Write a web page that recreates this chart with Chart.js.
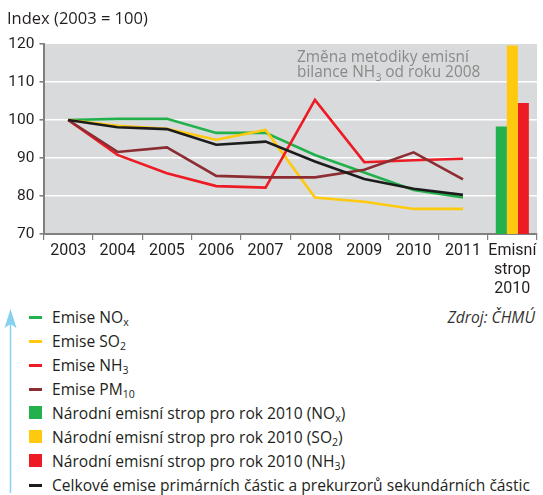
<!DOCTYPE html>
<html lang="cs">
<head>
<meta charset="utf-8">
<title>Index emisí 2003–2011</title>
<script src="https://cdn.jsdelivr.net/npm/chart.js@4/dist/chart.umd.min.js"></script>
<style>
  html, body { margin: 0; padding: 0; background: #fff; }
  body { font-family: "Open Sans", Roboto, sans-serif; color: #231f20; }
  #page { position: relative; width: 543px; height: 495px; overflow: hidden; }
  #chartBox { position: absolute; left: 0; top: 0; width: 543px; height: 300px; }
  #title { position: absolute; left: 7px; top: 7px; font-size: 16.5px; line-height: 22px; }
  #source { position: absolute; right: 8px; top: 306px; font-size: 15.6px; line-height: 22px; font-style: italic; color: #333; }
  #legend { position: absolute; left: 0; top: 305px; }
  .row { position: relative; height: 24px; line-height: 24px; font-size: 15.6px; padding-left: 52px; white-space: nowrap; }
  .row sub { font-size: 10.5px; vertical-align: -3px; line-height: 0; }
  .sw-line { position: absolute; left: 29px; top: 11px; width: 13px; height: 2.5px; }
  .sw-box { position: absolute; left: 29px; top: 5px; width: 13px; height: 13px; }
  #arrow { position: absolute; left: 0; top: 300px; }
</style>
</head>
<body>
<div id="page">
  <div id="chartBox"><canvas id="emiseChart"></canvas></div>
  <div id="title">Index (2003 = 100)</div>
  <div id="source">Zdroj: ČHMÚ</div>
  <svg id="arrow" width="22" height="195" viewBox="0 0 22 195">
    <line x1="10.5" y1="24" x2="10.5" y2="193" stroke="#86d0f0" stroke-width="1.5"/>
    <polygon points="10.5,9 4.5,28 10.5,24 16.5,28" fill="#86d0f0"/>
  </svg>
  <div id="legend"></div>
</div>
<script>
// kategorie osy x
const categories = ['2003', '2004', '2005', '2006', '2007', '2008', '2009', '2010', '2011', ['Emisní', 'strop', '2010']];

// indexy emisí (2003 = 100)
const noxValues   = [100, 100.3, 100.3, 96.6, 96.6, 90.8, 86.2, 81.6, 79.6, null];
const so2Values   = [100, 98.5, 97.7, 94.8, 97.4, 79.6, 78.5, 76.6, 76.6, null];
const nh3Values   = [100, 90.8, 86.0, 82.6, 82.2, 105.3, 88.9, 89.4, 89.8, null];
const pm10Values  = [100, 91.6, 92.8, 85.3, 84.9, 84.9, 86.9, 91.5, 84.4, null];
const totalValues = [100, 98.1, 97.6, 93.5, 94.3, 89.1, 84.5, 81.9, 80.3, null];

// národní emisní stropy pro rok 2010
const ceilingNox = [null, null, null, null, null, null, null, null, null, 98.3];
const ceilingSo2 = [null, null, null, null, null, null, null, null, null, 119.6];
const ceilingNh3 = [null, null, null, null, null, null, null, null, null, 104.5];

// osa y
const yTicks = [70, 80, 90, 100, 110, 120];

const noteLine1 = 'Změna metodiky emisní';
const noteLine2 = ['bilance NH', '3', ' od roku 2008'];

const colors = {
  nox: '#22b14c',
  so2: '#ffc90e',
  nh3: '#ed1c24',
  pm10: '#8b2d32',
  total: '#1c1c1c'
};

const legendRows = [
  { kind: 'line', color: colors.nox, html: 'Emise NO<sub>x</sub>' },
  { kind: 'line', color: colors.so2, html: 'Emise SO<sub>2</sub>' },
  { kind: 'line', color: colors.nh3, html: 'Emise NH<sub>3</sub>' },
  { kind: 'line', color: colors.pm10, html: 'Emise PM<sub>10</sub>' },
  { kind: 'box', color: colors.nox, html: 'Národní emisní strop pro rok 2010 (NO<sub>x</sub>)' },
  { kind: 'box', color: colors.so2, html: 'Národní emisní strop pro rok 2010 (SO<sub>2</sub>)' },
  { kind: 'box', color: colors.nh3, html: 'Národní emisní strop pro rok 2010 (NH<sub>3</sub>)' },
  { kind: 'line', color: colors.total, html: 'Celkové emise primárních částic a prekurzorů sekundárních částic' }
];

const FONT = 'Roboto, "Open Sans", sans-serif';
const NOTE_FONT = '"Open Sans", Roboto, sans-serif';

function buildLegend() {
  const box = document.getElementById('legend');
  legendRows.forEach(item => {
    const row = document.createElement('div');
    row.className = 'row';
    const sw = document.createElement('span');
    sw.className = item.kind === 'line' ? 'sw-line' : 'sw-box';
    sw.style.background = item.color;
    row.appendChild(sw);
    const txt = document.createElement('span');
    txt.innerHTML = item.html;
    row.appendChild(txt);
    box.appendChild(row);
  });
}

// šedé pozadí grafu
const plotBackground = {
  id: 'plotBackground',
  beforeDraw(chart) {
    const { ctx, chartArea: a } = chart;
    ctx.save();
    ctx.fillStyle = '#d9dadb';
    ctx.fillRect(a.left, a.top, a.right - a.left, a.bottom - a.top);
    ctx.restore();
  }
};

// poznámka o změně metodiky
const methodNote = {
  id: 'methodNote',
  beforeDatasetsDraw(chart) {
    const ctx = chart.ctx;
    const x = 297;
    ctx.save();
    ctx.fillStyle = '#8a8a8a';
    ctx.textBaseline = 'alphabetic';
    ctx.textAlign = 'left';
    ctx.font = '15.4px ' + NOTE_FONT;
    ctx.fillText(noteLine1, x, 61.5);
    let cx = x;
    ctx.fillText(noteLine2[0], cx, 77);
    cx += ctx.measureText(noteLine2[0]).width;
    ctx.font = '10px ' + NOTE_FONT;
    ctx.fillText(noteLine2[1], cx + 0.5, 80.5);
    cx += ctx.measureText(noteLine2[1]).width + 0.5;
    ctx.font = '15.4px ' + NOTE_FONT;
    ctx.fillText(noteLine2[2], cx, 77);
    ctx.restore();
  }
};

function lineSet(label, data, color, order) {
  return {
    type: 'line',
    label: label,
    data: data,
    borderColor: color,
    backgroundColor: color,
    borderWidth: 2.6,
    pointRadius: 0,
    tension: 0,
    fill: false,
    order: order
  };
}

function barSet(label, data, color) {
  return {
    type: 'bar',
    label: label,
    data: data,
    backgroundColor: color,
    borderWidth: 0,
    barPercentage: 1.0,
    categoryPercentage: 0.67,
    order: 10
  };
}

function init() {
  buildLegend();
  const ctx = document.getElementById('emiseChart').getContext('2d');
  new Chart(ctx, {
    type: 'bar',
    data: {
      labels: categories,
      datasets: [
        lineSet('Emise NOx', noxValues, colors.nox, 4),
        lineSet('Emise SO2', so2Values, colors.so2, 3),
        lineSet('Emise NH3', nh3Values, colors.nh3, 2),
        lineSet('Emise PM10', pm10Values, colors.pm10, 1),
        lineSet('Celkové emise', totalValues, colors.total, 0),
        barSet('Strop NOx', ceilingNox, colors.nox),
        barSet('Strop SO2', ceilingSo2, colors.so2),
        barSet('Strop NH3', ceilingNh3, colors.nh3)
      ]
    },
    options: {
      responsive: true,
      maintainAspectRatio: false,
      animation: false,
      layout: { padding: { left: 0, right: 6, top: 44, bottom: 0 } },
      plugins: {
        legend: { display: false },
        tooltip: { enabled: false }
      },
      scales: {
        x: {
          offset: true,
          afterFit: scale => { scale.height = 66; },
          border: { display: true, color: '#808080', width: 2 },
          grid: {
            offset: true,
            drawOnChartArea: false,
            drawTicks: true,
            tickLength: 6,
            color: '#808080',
            lineWidth: 1.2
          },
          ticks: {
            color: '#231f20',
            padding: 1,
            maxRotation: 0,
            autoSkip: false,
            font: { family: FONT, size: 16, lineHeight: 1.2 }
          }
        },
        y: {
          min: 70,
          max: 120,
          afterFit: scale => { scale.width = 43.5; },
          afterBuildTicks: scale => { scale.ticks = yTicks.map(v => ({ value: v })); },
          border: { display: true, color: '#808080', width: 2 },
          grid: {
            color: c => (c.tick && c.tick.value === 120 ? 'rgba(0,0,0,0)' : '#ffffff'),
            tickColor: '#808080',
            lineWidth: 1.6,
            tickLength: 4
          },
          ticks: {
            color: '#231f20',
            padding: 5,
            font: { family: FONT, size: 15.5 }
          }
        }
      }
    },
    plugins: [plotBackground, methodNote]
  });
}

if (document.readyState === 'loading') {
  document.addEventListener('DOMContentLoaded', init, { once: true });
} else {
  init();
}
</script>
</body>
</html>
